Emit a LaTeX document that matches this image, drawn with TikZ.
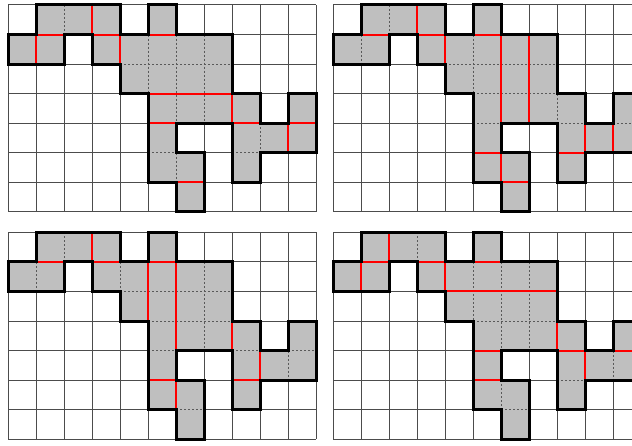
\documentclass[tikz,border=0pt]{standalone}
\usepackage{tikz}

\tikzset{
  gridline/.style={black!70, line width=0.5pt},
  cellfill/.style={fill=black!25},
  inner/.style={black!65, line width=0.5pt, dash pattern=on 1pt off 1pt},
  cut/.style={red, line width=1pt},
  outline/.style={black, line width=1.5pt, line join=miter},
}

% the shaded region, cell corners (column,row), rows counted downwards
\newcommand{\regionpath}{(1,0) -- (4,0) -- (4,1) -- (5,1) -- (5,0) -- (6,0) -- (6,1)
  -- (8,1) -- (8,3) -- (9,3) -- (9,4) -- (10,4) -- (10,3) -- (11,3) -- (11,5)
  -- (9,5) -- (9,6) -- (8,6) -- (8,4) -- (6,4) -- (6,5) -- (7,5) -- (7,7)
  -- (6,7) -- (6,6) -- (5,6) -- (5,3) -- (4,3) -- (4,2) -- (3,2) -- (3,1)
  -- (2,1) -- (2,2) -- (0,2) -- (0,1) -- (1,1) -- cycle}

% one board: grid, region, inner edges, red edges (#1), outline
\newcommand{\board}[1]{
  \foreach \i in {0,...,11} \draw[gridline] (\i,0) -- (\i,7);
  \foreach \j in {0,...,7} \draw[gridline] (0,\j) -- (11,\j);
  \fill[cellfill] \regionpath;
  \draw[inner] (1,1) -- (2,1) (3,1) -- (4,1) (5,1) -- (6,1)
    (4,2) -- (8,2) (5,3) -- (8,3)
    (5,4) -- (6,4) (8,4) -- (9,4) (10,4) -- (11,4)
    (5,5) -- (6,5) (8,5) -- (9,5) (6,6) -- (7,6);
  \draw[inner] (2,0) -- (2,1) (3,0) -- (3,1)
    (1,1) -- (1,2) (4,1) -- (4,2) (5,1) -- (5,3) (6,1) -- (6,4) (7,1) -- (7,4)
    (8,3) -- (8,4) (9,4) -- (9,5) (10,4) -- (10,5) (6,5) -- (6,6);
  #1
  \draw[outline] \regionpath;
}

\begin{document}
\begin{tikzpicture}[x=14pt, y=-14.775pt]
\useasboundingbox (-0.296,-0.169) rectangle (22.275,14.892);
\clip (-0.296,-0.169) rectangle (22.275,14.892);

% top left
\begin{scope}
\board{\draw[cut] (1,1) -- (2,1) (3,1) -- (4,1) (5,1) -- (6,1) (5,3) -- (8,3)
  (5,4) -- (6,4) (8,4) -- (9,4) (10,4) -- (11,4) (6,6) -- (7,6)
  (3,0) -- (3,1) (1,1) -- (1,2) (4,1) -- (4,2) (8,3) -- (8,4) (10,4) -- (10,5);}
\end{scope}

% top right
\begin{scope}[shift={(11.607,0)}]
\board{\draw[cut] (1,1) -- (2,1) (3,1) -- (4,1) (5,1) -- (6,1)
  (5,5) -- (6,5) (8,5) -- (9,5) (6,6) -- (7,6)
  (3,0) -- (3,1) (4,1) -- (4,2) (6,1) -- (6,4) (7,1) -- (7,4)
  (9,4) -- (9,5) (10,4) -- (10,5) (6,5) -- (6,6);}
\end{scope}

% bottom left
\begin{scope}[shift={(0,7.695)}]
\board{\draw[cut] (1,1) -- (2,1) (3,1) -- (4,1) (5,1) -- (6,1)
  (5,5) -- (6,5) (8,5) -- (9,5)
  (3,0) -- (3,1) (5,1) -- (5,3) (6,1) -- (6,4) (8,3) -- (8,4)
  (9,4) -- (9,5) (6,5) -- (6,6);}
\end{scope}

% bottom right
\begin{scope}[shift={(11.607,7.695)}]
\board{\draw[cut] (1,1) -- (2,1) (3,1) -- (4,1) (5,1) -- (6,1) (4,2) -- (8,2)
  (5,4) -- (6,4) (8,4) -- (9,4) (10,4) -- (11,4) (5,5) -- (6,5)
  (2,0) -- (2,1) (1,1) -- (1,2) (4,1) -- (4,2) (8,3) -- (8,4) (9,4) -- (9,5);}
\end{scope}
\end{tikzpicture}
\end{document}
